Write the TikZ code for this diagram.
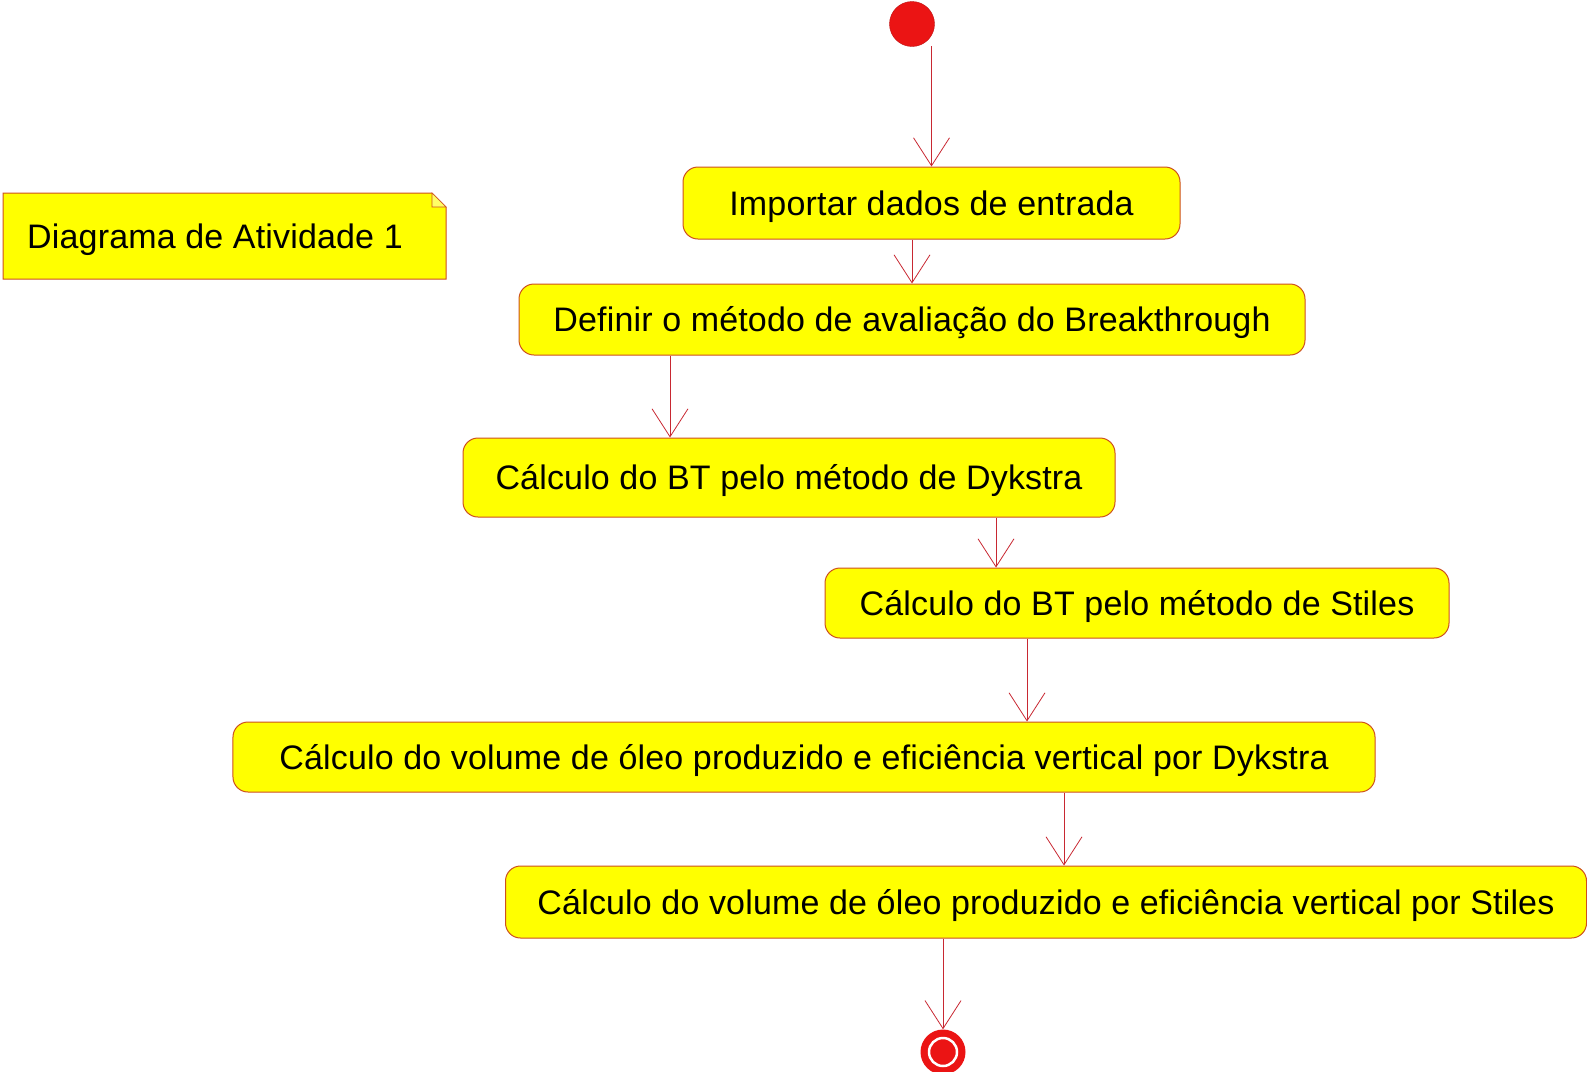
\documentclass[tikz,border=0pt]{standalone}
\usepackage{fontspec}
\setmainfont{Liberation Sans}[LetterSpace=0.5]
\usepackage{xcolor}
\usepackage{tikz}
\usetikzlibrary{arrows.meta,shapes,positioning,calc}
\definecolor{umlyellow}{RGB}{255,255,0}
\definecolor{umlred}{RGB}{235,20,20}
\definecolor{umlborder}{RGB}{205,80,30}
\definecolor{umlline}{RGB}{200,40,50}

\tikzset{
    activity/.style={draw=umlborder, fill=umlyellow, line width=1bp, rounded corners=15bp,
        inner sep=0pt, text height=24bp, text depth=0bp, font=\fontsize{34bp}{40bp}\selectfont},
    flow/.style={draw=umlline, line width=0.8bp, -{Straight Barb[length=28bp,width=36bp]}},
    dot/.style={circle, fill=umlred, draw=umlred!80!black, inner sep=0pt, minimum size=45bp}
}

\begin{document}
\begin{tikzpicture}[x=1bp,y=-1bp]
\useasboundingbox (0,0) rectangle (1587,1071);

    % Note
    \draw[draw=umlborder, fill=umlyellow, line width=1bp]
        (3,193) -- (432,193) -- (446,207) -- (446,279) -- (3,279) -- cycle;
    \draw[draw=umlborder, fill=umlyellow!60!white, line width=0.6bp] (432,193) -- (446,207) -- (432,207) -- cycle;
    \node[anchor=west, inner sep=0pt, text height=24bp, text depth=0bp, font=\fontsize{34bp}{40bp}\selectfont] (note) at (27,236) {Diagrama de Atividade 1};

    % Start and end
    \node[dot] (start) at (912,24) {};
    \node[dot, draw=none] (stop) at (943,1052) {};
    \draw[white, line width=2.5bp] (stop.center) circle (14bp);

    % Activities
    \node[activity, minimum width=497bp, minimum height=72bp] (act1) at (931.5,203) {Importar dados de entrada};
    \node[activity, minimum width=786bp, minimum height=71bp] (act2) at (912,319.5) {Definir o método de avaliação do Breakthrough};
    \node[activity, minimum width=652bp, minimum height=79bp] (act3) at (789,477.5) {Cálculo do BT pelo método de Dykstra};
    \node[activity, minimum width=624bp, minimum height=70bp] (act4) at (1137,603) {Cálculo do BT pelo método de Stiles};
    \node[activity, minimum width=1142bp, minimum height=70bp] (act5) at (804,757) {Cálculo do volume de óleo produzido e eficiência vertical por Dykstra};
    \node[activity, minimum width=1081bp, minimum height=72bp] (act6) at (1046,902) {Cálculo do volume de óleo produzido e eficiência vertical por Stiles};

    % Flows
    \coordinate (s0) at (act1.north |- 0,46);
    \draw[flow] (s0) -- (act1.north);
    \draw[flow] (act1.south -| act2.north) -- (act2.north);
    \draw[flow] ([xshift=-242bp]act2.south) -- ([xshift=-242bp]act2.south |- act3.north);
    \draw[flow] ([xshift=207bp]act3.south) -- ([xshift=207bp]act3.south |- act4.north);
    \draw[flow] ([xshift=-110bp]act4.south) -- ([xshift=-110bp]act4.south |- act5.north);
    \draw[flow] ([xshift=260bp]act5.south) -- ([xshift=260bp]act5.south |- act6.north);
    \draw[flow] (stop |- act6.south) -- (stop.north);
\end{tikzpicture}
\end{document}
